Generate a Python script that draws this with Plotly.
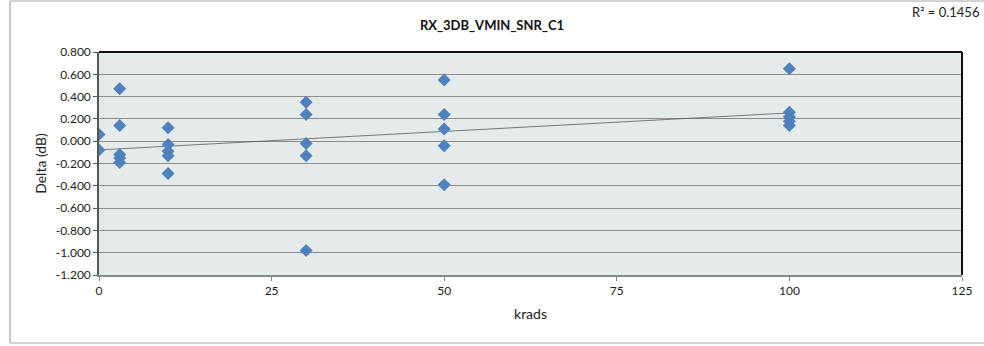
import numpy as np
import plotly.graph_objects as go

# Radiation dose (krads) and measured delta (dB) per device
krads = [0, 0,
         3, 3, 3, 3, 3,
         10, 10, 10, 10, 10,
         30, 30, 30, 30, 30,
         50, 50, 50, 50, 50,
         100, 100, 100, 100, 100]
delta_db = [0.06, -0.08,
            0.47, 0.14, -0.12, -0.15, -0.19,
            0.12, -0.03, -0.09, -0.13, -0.29,
            0.35, 0.24, -0.02, -0.13, -0.98,
            0.55, 0.24, 0.11, -0.04, -0.39,
            0.65, 0.26, 0.22, 0.18, 0.14]

chart_title = "RX_3DB_VMIN_SNR_C1"
r_squared_label = "R² = 0.1456"
x_ticks = [0, 25, 50, 75, 100, 125]
y_ticks = [0.8, 0.6, 0.4, 0.2, 0.0, -0.2, -0.4, -0.6, -0.8, -1.0, -1.2]
y_tick_text = [f"{v:.3f}" for v in y_ticks]

# Linear least-squares trendline
slope, intercept = np.polyfit(krads, delta_db, 1)
trend_x = [min(krads), max(krads)]
trend_y = [intercept + slope * v for v in trend_x]

FONT = "Lato, 'Open Sans', sans-serif"

fig = go.Figure()
fig.add_trace(go.Scatter(
    x=trend_x, y=trend_y, mode="lines",
    line=dict(color="#5a5a5a", width=0.8),
    hoverinfo="skip", showlegend=False,
))
fig.add_trace(go.Scatter(
    x=krads, y=delta_db, mode="markers",
    marker=dict(symbol="diamond", size=10, color="#4F81BD",
                line=dict(width=0)),
    showlegend=False,
))

fig.update_layout(
    width=984, height=346,
    margin=dict(l=99, r=22, t=52, b=71),
    paper_bgcolor="white",
    plot_bgcolor="#E5EBEB",
    font=dict(family=FONT, size=12, color="#222"),
    title=dict(text=f"<b>{chart_title}</b>", x=0.5, xanchor="center",
               y=0.927, yanchor="middle",
               font=dict(family=FONT, size=13, color="#111")),
    xaxis=dict(
        range=[0, 125], tickvals=x_ticks,
        showgrid=False, zeroline=False,
        showline=True, linecolor="#8a8a8a", linewidth=2,
        ticks="outside", ticklen=4, tickcolor="#8a8a8a",
        tickfont=dict(size=12),
        title=dict(text="krads", font=dict(size=14), standoff=12),
    ),
    yaxis=dict(
        range=[-1.2, 0.8], tickvals=y_ticks, ticktext=y_tick_text,
        showgrid=True, gridcolor="#8c8c8c", gridwidth=1.3,
        zeroline=False,
        showline=True, linecolor="#555", linewidth=1.5,
        ticks="outside", ticklen=4, tickcolor="#555",
        tickfont=dict(size=12),
        title=dict(text="Delta (dB)", font=dict(size=14), standoff=6),
    ),
    shapes=[
        # outer chart frame
        dict(type="rect", xref="paper", yref="paper",
             x0=-0.1031, x1=1.04, y0=-0.305, y1=1.2287,
             line=dict(color="#a6a6a6", width=1.2), layer="below"),
        # top and right edges of the plot area
        dict(type="line", xref="paper", yref="paper",
             x0=0, x1=1, y0=1, y1=1, line=dict(color="#111", width=2)),
        dict(type="line", xref="paper", yref="paper",
             x0=1, x1=1, y0=0, y1=1, line=dict(color="#111", width=2)),
    ],
    annotations=[
        dict(text=r_squared_label, xref="paper", yref="paper",
             x=1.0225, y=1.18, xanchor="right", yanchor="middle",
             showarrow=False, font=dict(family=FONT, size=13, color="#222")),
    ],
)

fig.write_html("out.html")
